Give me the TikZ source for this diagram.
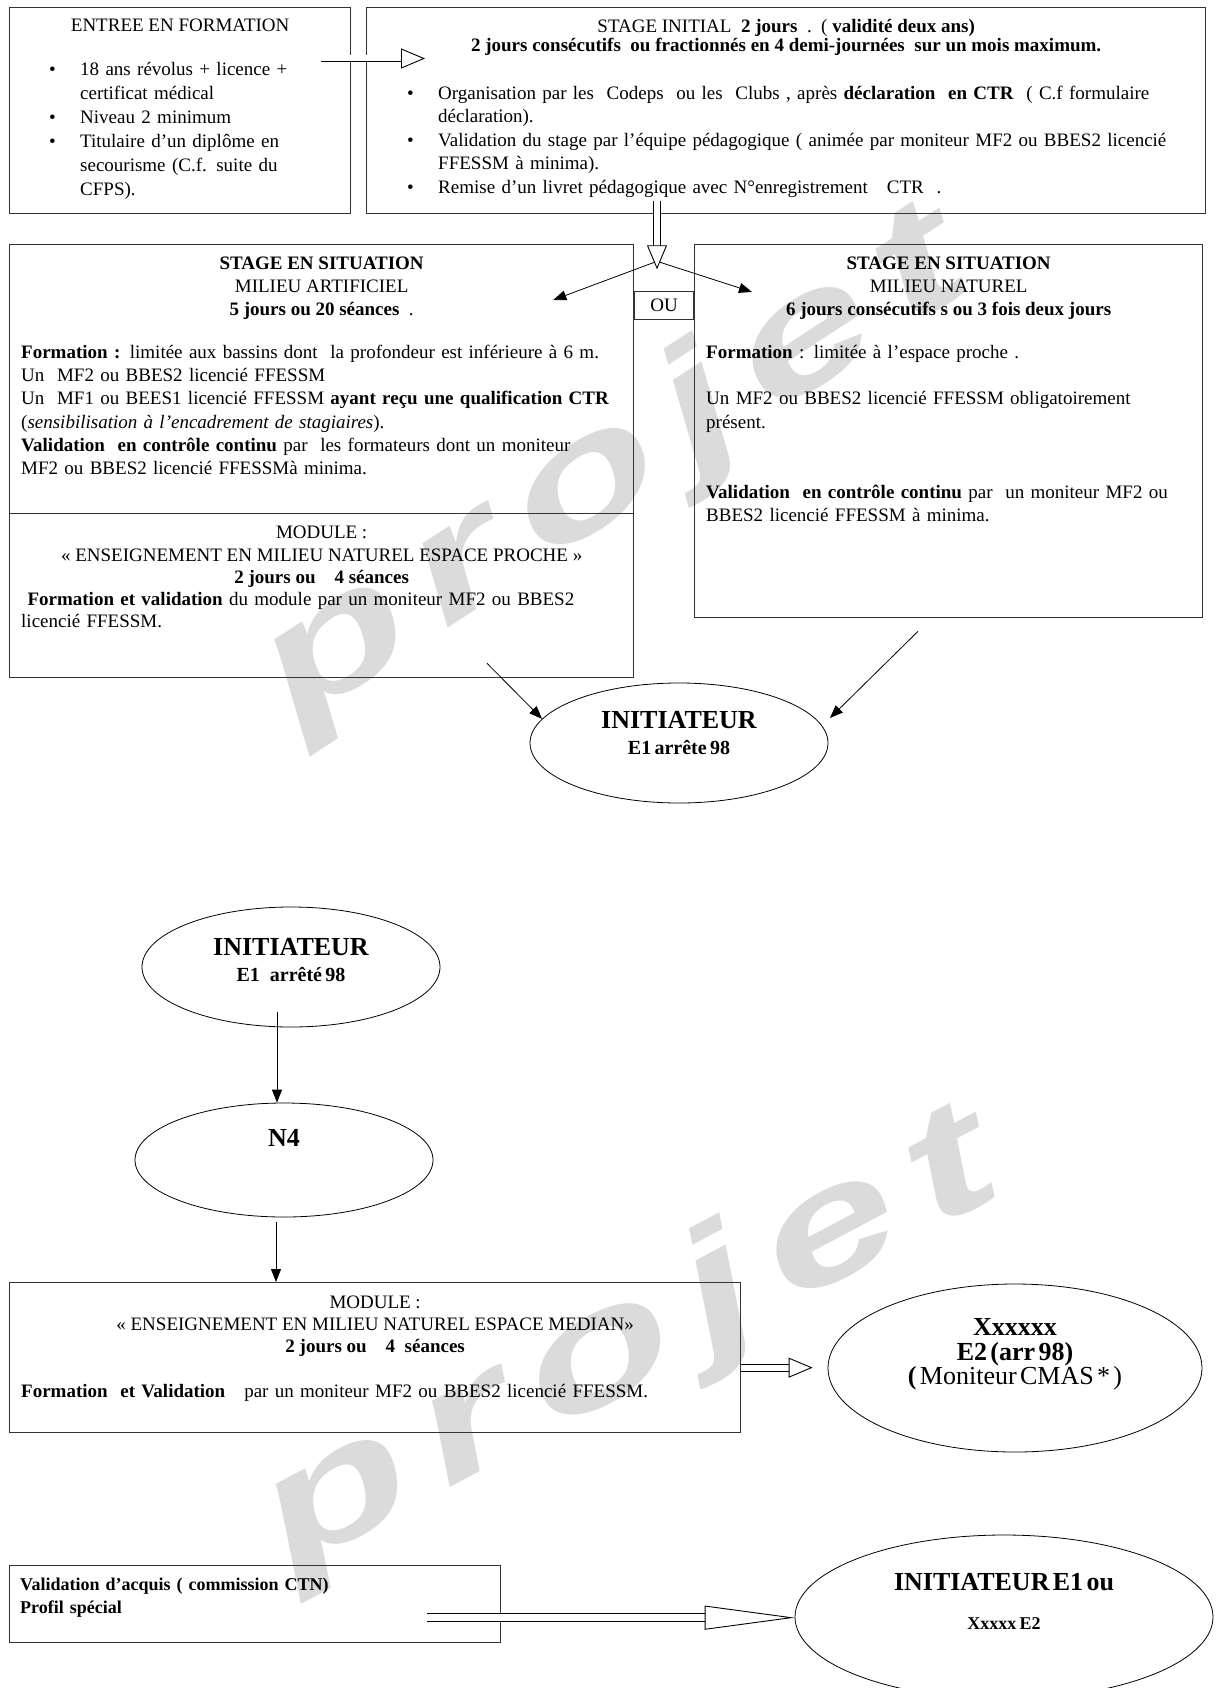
\documentclass[tikz,border=0pt]{standalone}
\usepackage{fontspec}
\setmainfont{Liberation Serif}
\newfontfamily\sansfili{Liberation Sans}
\usetikzlibrary{positioning,shapes.geometric,arrows.meta}

\setlength{\parindent}{0pt}
\newcommand{\hautligne}{\rule{0pt}{15pt}}
\newcommand{\hautgras}{\rule{0pt}{18pt}}
\newcommand{\puce}[1]{\noindent\hangindent=61pt\hangafter=1\makebox[61pt][l]{\hspace{30pt}\textbullet}#1\par}
\newcommand{\ecart}{\hspace{16pt}}

\begin{document}
\begin{tikzpicture}[x=1pt,y=-1pt,
    boite/.style={draw=black!80, line width=1.3pt, anchor=north west, inner sep=0pt},
    titre/.style={anchor=north, inner sep=0pt, align=center, font=\fontsize{19}{23.3}\selectfont},
    corps/.style={anchor=north west, inner sep=0pt, align=left, font=\fontsize{19}{23.3}\selectfont},
    bulle/.style={draw, ellipse, line width=0.8pt, inner sep=0pt},
    etiq/.style={anchor=north, inner sep=0pt, text width=340pt, align=center, font=\bfseries},
    fleche/.style={line width=0.8pt, -{Triangle[length=13pt,width=10pt]}},
    creux/.style={double, double distance=6pt, line width=0.9pt,
      -{Triangle[open,fill=white,line width=0.9pt,length=24pt,width=20pt]}},
    creuxlong/.style={double, double distance=7pt, line width=0.9pt,
      -{Triangle[open,fill=white,line width=0.9pt,length=90pt,width=24pt]}},
    filigrane/.style={text=gray!28, inner sep=0pt,
      font=\sansfili\bfseries\itshape\fontsize{160}{160}\selectfont}]

  \fill[white] (0,0) rectangle (1215,1688);
  \useasboundingbox (0,0) rectangle (1215,1688);

  % filigrane
  \node[filigrane, rotate=33, xscale=1.55] (projet1) at (615,470)
    {p\ecart r\ecart o\ecart j\ecart e\ecart t};
  \node[filigrane, rotate=28, xscale=1.55] (projet2) at (630,1345)
    {p\ecart r\ecart o\ecart j\ecart e\ecart t};

  % cadres
  \node[boite, minimum width=341pt, minimum height=206pt] (entree) at (9,7) {};
  \node[boite, minimum width=839pt, minimum height=206pt] (initial) at (366,7) {};
  \node[boite, minimum width=624pt, minimum height=269pt] (artif) at (9,244) {};
  \node[boite, minimum width=624pt, minimum height=164pt] (module1) at (9,513) {};
  \node[boite, minimum width=508pt, minimum height=373pt] (naturel) at (694,244) {};
  \node[boite, minimum width=59pt, minimum height=28pt,
        font=\fontsize{19}{24}\selectfont] (ou) at (634,291) {OU};
  \node[boite, minimum width=731pt, minimum height=150pt] (module2) at (9,1282) {};
  \node[boite, minimum width=491pt, minimum height=77pt] (acquis) at (9,1565) {};

  % entree en formation
  \node[titre] (entreetit) at ([yshift=-9pt]entree.north)
    {\hautligne ENTREE EN FORMATION};
  \node[corps, text width=330pt, font=\fontsize{19}{24}\selectfont] (entreetxt)
    at ([xshift=10pt,yshift=-53pt]entree.north west) {%
    \puce{\hautligne 18 ans révolus + licence +\newline certificat médical}
    \puce{Niveau 2 minimum}
    \puce{Titulaire d’un diplôme en\newline secourisme (C.f. suite du\newline CFPS).}};

  % stage initial
  \node[titre, font=\fontsize{19}{19.5}\selectfont] (initialtit) at ([yshift=-10pt]initial.north)
    {\hautligne STAGE INITIAL\ \ \textbf{2 jours}\ \ .\ \ ( \textbf{validité deux ans)}\\
     \textbf{2 jours consécutifs\ \ ou fractionnés en 4 demi-journées\ \ sur un mois maximum.}};
  \node[corps, text width=850pt, font=\fontsize{19}{23.5}\selectfont] (initialtxt)
    at ([xshift=11pt,yshift=-77pt]initial.north west) {%
    \puce{\hautligne Organisation par les\ \ Codeps\ \ ou les\ \ Clubs , après \textbf{déclaration\ \ en CTR}\ \ ( C.f formulaire\newline déclaration).}
    \puce{Validation du stage par l’équipe pédagogique ( animée par moniteur MF2 ou BBES2 licencié\newline FFESSM à minima).}
    \puce{Remise d’un livret pédagogique avec N°enregistrement\ \ \ CTR\ \ .}};

  % milieu artificiel
  \node[titre] (artiftit) at ([yshift=-10pt]artif.north)
    {\hautligne\textbf{STAGE EN SITUATION}\\ MILIEU ARTIFICIEL\\ \textbf{5 jours ou 20 séances}\ \ .};
  \node[corps, text width=640pt] (artiftxt)
    at ([xshift=12pt,yshift=-99pt]artif.north west) {%
    \hautligne\textbf{Formation :} limitée aux bassins dont\ \ la profondeur est inférieure à 6 m.\\
    Un\ \ MF2 ou BBES2 licencié FFESSM\\
    Un\ \ MF1 ou BEES1 licencié FFESSM \textbf{ayant reçu une qualification CTR}\\
    (\textit{sensibilisation à l’encadrement de stagiaires}).\\
    \textbf{Validation\ \ en contrôle continu} par\ \ les formateurs dont un moniteur\\
    MF2 ou BBES2 licencié FFESSMà minima.};

  % module espace proche
  \node[titre, font=\fontsize{19}{22.2}\selectfont] (module1tit) at ([yshift=-10.6pt]module1.north)
    {\hautligne MODULE :\\ « ENSEIGNEMENT EN MILIEU NATUREL ESPACE PROCHE »\\ \textbf{2 jours ou\ \ \ \ 4 séances}};
  \node[corps, text width=640pt, font=\fontsize{19}{22.2}\selectfont] (module1txt)
    at ([xshift=12pt,yshift=-77pt]module1.north west) {%
    \hautligne\ \textbf{Formation et validation} du module par un moniteur MF2 ou BBES2\\
    licencié FFESSM.};

  % milieu naturel
  \node[titre] (natureltit) at ([yshift=-10pt]naturel.north)
    {\hautligne\textbf{STAGE EN SITUATION}\\ MILIEU NATUREL\\ \textbf{6 jours consécutifs s ou 3 fois deux jours}};
  \node[corps, text width=520pt] (natureltxt)
    at ([xshift=12pt,yshift=-99pt]naturel.north west) {%
    \hautligne\textbf{Formation}\ : limitée à l’espace proche .\par
    \vspace{23.3pt}
    Un MF2 ou BBES2 licencié FFESSM obligatoirement\\ présent.\par
    \vspace{46.6pt}
    \textbf{Validation\ \ en contrôle continu} par\ \ un moniteur MF2 ou\\
    BBES2 licencié FFESSM à minima.};

  % module espace median
  \node[titre, font=\fontsize{19}{22}\selectfont] (module2tit) at ([yshift=-11.6pt]module2.north)
    {\hautligne MODULE :\\ « ENSEIGNEMENT EN MILIEU NATUREL ESPACE MEDIAN»\\ \textbf{2 jours ou\ \ \ \ 4\ \ séances}};
  \node[corps, text width=740pt] (module2txt)
    at ([xshift=12pt,yshift=-100.6pt]module2.north west) {%
    \hautligne\textbf{Formation\ \ et Validation}\ \ \ par un moniteur MF2 ou BBES2 licencié FFESSM.};

  % validation d'acquis
  \node[corps, text width=480pt, font=\bfseries\fontsize{18}{23}\selectfont] (acquistxt)
    at ([xshift=11pt,yshift=-10pt]acquis.north west) {%
    \hautligne Validation d’acquis ( commission CTN)\\ Profil spécial};

  % ellipses
  \node[bulle, minimum width=298pt, minimum height=120pt] (init1) at (679,743) {};
  \node[etiq] (init1txt) at ([yshift=32.4pt]init1.center)
    {{\fontsize{26}{26}\selectfont\hautgras INITIATEUR\par}{\fontsize{20}{25.4}\selectfont E1 arrête 98\par}};

  \node[bulle, minimum width=298pt, minimum height=120pt] (init2) at (291,967) {};
  \node[etiq] (init2txt) at ([yshift=29.4pt]init2.center)
    {{\fontsize{26}{26}\selectfont\hautgras INITIATEUR\par}{\fontsize{20}{25.4}\selectfont E1\ \ \ arrêté 98\par}};

  \node[bulle, minimum width=298pt, minimum height=114pt] (n4) at (284,1160) {};
  \node[etiq] (n4txt) at ([yshift=31.4pt]n4.center)
    {{\fontsize{26}{26}\selectfont\hautgras N4\par}};

  \node[bulle, minimum width=374pt, minimum height=168pt] (xell) at (1015,1368) {};
  \node[etiq] (xelltxt) at ([yshift=50.4pt]xell.center)
    {{\fontsize{26}{24.5}\selectfont\hautgras Xxxxxx\\ E2 (arr 98)\\ (\ \mdseries Moniteur CMAS * )\par}};

  \node[bulle, minimum width=418pt, minimum height=164pt] (fin) at (1004,1617) {};
  \node[etiq] (fintxt) at ([yshift=44.4pt]fin.center)
    {{\fontsize{26}{26}\selectfont\hautgras INITIATEUR\ E1\ ou\par}{\fontsize{18}{38.4}\selectfont Xxxxx E2\par}};

  % liaisons du haut
  \coordinate (fl1d) at ([xshift=-30pt,yshift=-51.5pt]entree.north east);
  \coordinate (fl1f) at ([xshift=59pt,yshift=-51.5pt]initial.north west);
  \draw[creux] (fl1d) -- (fl1f);

  \coordinate (fl2d) at ([xshift=291pt,yshift=13pt]initial.south west);
  \coordinate (fl2f) at ([yshift=-68pt]fl2d);
  \coordinate (fourche) at ([yshift=-60pt]fl2d);
  \coordinate (versartif) at ([xshift=-81pt,yshift=-56pt]artif.north east);
  \coordinate (versnaturel) at ([xshift=58pt,yshift=-48pt]naturel.north west);
  \draw[fleche] (fourche) -- (versartif);
  \draw[fleche] (fourche) -- (versnaturel);
  \draw[creux] (fl2d) -- (fl2f);

  \coordinate (m1) at ([xshift=478pt,yshift=15pt]module1.south west);
  \coordinate (n1) at ([xshift=224pt,yshift=-13pt]naturel.south west);
  \coordinate (versinit) at ([xshift=151pt,yshift=25pt]init1.center);
  \draw[fleche] (m1) -- (init1.170);
  \draw[fleche] (n1) -- (versinit);

  % liaisons du bas
  \coordinate (d2) at ([xshift=-14pt,yshift=15pt]init2.south);
  \draw[fleche] (d2) -- (d2 |- n4.north);
  \coordinate (d3) at ([xshift=-8pt,yshift=-5pt]n4.south);
  \draw[fleche] (d3) -- (d3 |- module2.north);

  \coordinate (d4) at ([yshift=-10pt]module2.east);
  \coordinate (f4) at ([xshift=-15pt]xell.west);
  \draw[creux] (d4) -- (d4 -| f4);

  \coordinate (d5) at ([xshift=-74pt,yshift=-13.5pt]acquis.east);
  \draw[creuxlong] (d5) -- (d5 -| fin.west);
\end{tikzpicture}
\end{document}
